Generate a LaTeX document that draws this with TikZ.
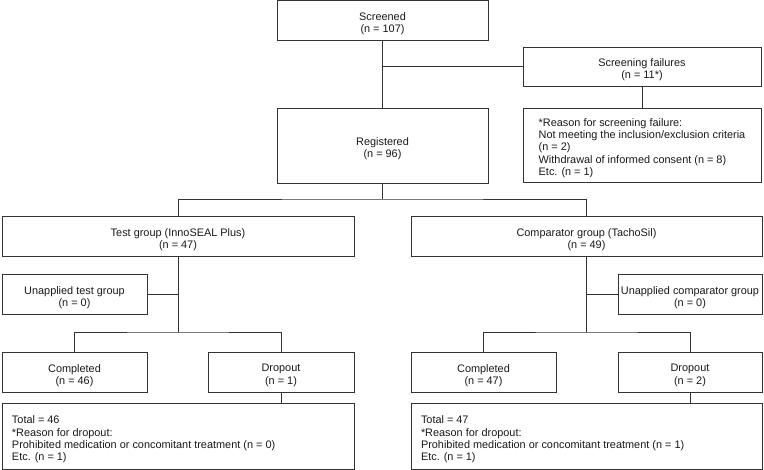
\documentclass[tikz,border=0pt]{standalone}
\usepackage{fontspec}
\setmainfont{Liberation Sans}
\newcommand\flowbox[6]{%
  \node[box, minimum width=#4, minimum height=#5] (#1) at (#2,#3) {};
  \node[txt] (#1-t) at ([yshift=-3.5pt]#1.center) {#6};}
\begin{document}
\begin{tikzpicture}[x=1pt,y=1pt,
  box/.style={draw=black!80, line width=0.8pt, inner sep=0pt},
  txt/.style={align=center, inner sep=0pt, font=\fontsize{10.9}{12.3}\selectfont, text=black!90},
  conn/.style={draw=black!80, line width=0.8pt}]
\useasboundingbox (0,0) rectangle (764,470);
% boxes (y measured from top: tikz y = 470 - y)
\flowbox{scr}{382.5}{449.5}{211}{39.5}{Screened\\(n = 107)}
\flowbox{fail}{642}{403.5}{238}{39}{Screening failures\\(n = 11*)}
\flowbox{reason}{642}{325}{238}{74}{\begin{tabular}{@{}l@{}}{*}Reason for screening failure:\\Not meeting the inclusion/exclusion criteria\\(n = 2)\\Withdrawal of informed consent (n = 8)\\Etc. (n = 1)\end{tabular}}
\flowbox{reg}{382.5}{324.5}{211}{75}{Registered\\(n = 96)}
\flowbox{test}{178}{234}{352}{40}{Test group (InnoSEAL Plus)\\(n = 47)}
\flowbox{comp}{586.5}{234}{351}{40}{Comparator group (TachoSil)\\(n = 49)}
\flowbox{untest}{74.5}{176}{145}{40}{Unapplied test group\\(n = 0)}
\flowbox{uncomp}{690}{176}{144}{40}{Unapplied comparator group\\(n = 0)}
\flowbox{compL}{74.5}{98}{145}{40}{Completed\\(n = 46)}
\flowbox{dropL}{281}{98}{146}{40}{Dropout\\(n = 1)}
\flowbox{compR}{483.5}{98}{145}{40}{Completed\\(n = 47)}
\flowbox{dropR}{690}{98}{144}{40}{Dropout\\(n = 2)}
\flowbox{totL}{178}{34}{352}{66}{\parbox{332pt}{Total = 46\\{*}Reason for dropout:\\Prohibited medication or concomitant treatment (n = 0)\\Etc. (n = 1)}}
\flowbox{totR}{586.5}{34}{351}{66}{\parbox{331pt}{Total = 47\\{*}Reason for dropout:\\Prohibited medication or concomitant treatment (n = 1)\\Etc. (n = 1)}}
% junctions
\coordinate (jf) at (382.5,404);
\coordinate (j1) at (382.5,271);
\coordinate (jL) at (178,138);
\coordinate (jR) at (586.5,138);
% connectors
\draw[conn] (scr.south) -- (reg.north);
\draw[conn] (jf) -- (jf -| fail.west);
\draw[conn] (fail.south) -- (reason.north);
\draw[conn] (reg.south) -- (j1);
\draw[conn] (test.north) |- (j1) -| (comp.north);
\draw[conn] (test.south) -- (jL);
\draw[conn] (compL.north) |- (jL) -| (dropL.north);
\draw[conn] (untest.east) -- (untest.east -| test.south);
\draw[conn] (dropL.south) -- (dropL.south |- totL.north);
\draw[conn] (comp.south) -- (jR);
\draw[conn] (compR.north) |- (jR) -| (dropR.north);
\draw[conn] (uncomp.west) -- (uncomp.west -| comp.south);
\draw[conn] (dropR.south) -- (dropR.south |- totR.north);
\end{tikzpicture}
\end{document}
